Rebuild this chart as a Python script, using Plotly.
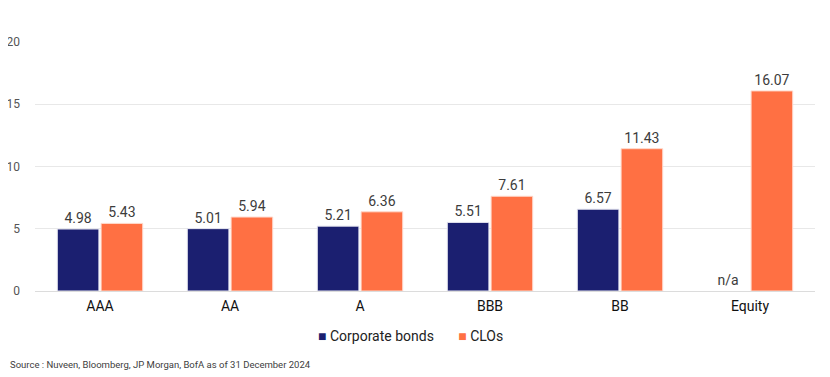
import plotly.graph_objects as go

categories = ["AAA", "AA", "A", "BBB", "BB", "Equity"]
corporate_bonds = [4.98, 5.01, 5.21, 5.51, 6.57, 0]
corporate_text = ["4.98", "5.01", "5.21", "5.51", "6.57", "n/a"]
clos = [5.43, 5.94, 6.36, 7.61, 11.43, 16.07]
clos_text = ["5.43", "5.94", "6.36", "7.61", "11.43", "16.07"]
y_ticks = [0, 5, 10, 15, 20]
series_names = ["Corporate bonds", "CLOs"]

BLUE = "#1b1f70"
ORANGE = "#ff7043"
FONT = "Roboto"

fig = go.Figure()
fig.add_trace(go.Bar(
    x=categories, y=corporate_bonds, name=series_names[0],
    marker=dict(color=BLUE, line=dict(color="#e6e6f0", width=[1, 1, 1, 1, 1, 0])),
    text=corporate_text, textposition="outside",
    textfont=dict(family=FONT, size=14, color="#3c3c3c"),
    cliponaxis=False,
))
fig.add_trace(go.Bar(
    x=categories, y=clos, name=series_names[1],
    marker=dict(color=ORANGE, line=dict(color="#ffd9cc", width=1)),
    text=clos_text, textposition="outside",
    textfont=dict(family=FONT, size=14, color="#3c3c3c"),
    cliponaxis=False,
))

fig.update_layout(
    width=830, height=377,
    margin=dict(l=27, r=23, t=34, b=94),
    paper_bgcolor="white", plot_bgcolor="white",
    barmode="group", bargap=0.326, bargroupgap=0.05,
    font=dict(family=FONT, color="#404040"),
    showlegend=False,
    xaxis=dict(showgrid=False, showline=False, ticks="", ticklabelstandoff=5,
               automargin=False,
               tickfont=dict(family=FONT, size=14, color="#111111")),
    yaxis=dict(range=[0, 20], tickvals=y_ticks, showgrid=True, gridcolor="#e8e8e8",
               gridwidth=1, zeroline=True, zerolinecolor="#dcdcdc", zerolinewidth=1,
               showline=False, ticks="", ticklabelstandoff=14, automargin=False,
               tickfont=dict(family=FONT, size=12, color="#555555")),
)

legend_text = (
    f'<span style="color:{BLUE}">■</span> {series_names[0]}'
    f'&nbsp;&nbsp;&nbsp;&nbsp;&nbsp;&nbsp;&nbsp;'
    f'<span style="color:{ORANGE}">■</span> {series_names[1]}'
)
fig.add_annotation(
    text=legend_text, xref="paper", yref="paper", x=0.481, y=-0.181,
    xanchor="center", yanchor="middle", showarrow=False,
    font=dict(family=FONT, size=14, color="#222222"),
)
fig.add_annotation(
    text="Source : Nuveen, Bloomberg, JP Morgan, BofA as of 31 December 2024",
    xref="paper", yref="paper", x=-0.0346, y=-0.297, xanchor="left", yanchor="middle",
    showarrow=False, font=dict(family=FONT, size=9.5, color="#404040"),
)

fig.write_html("out.html")
